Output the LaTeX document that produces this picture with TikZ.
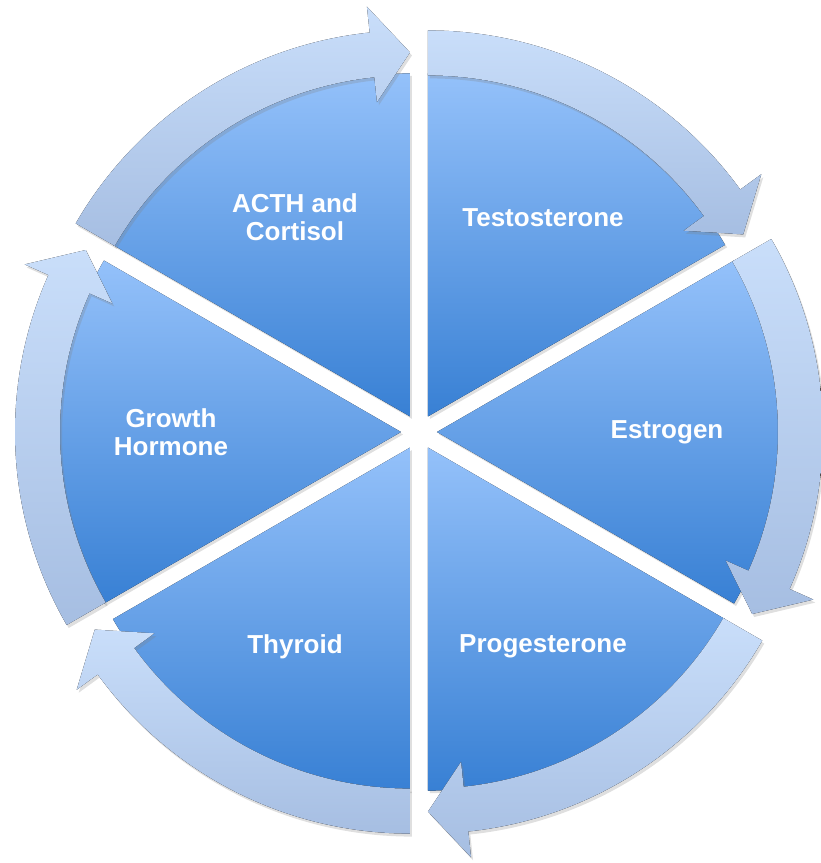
\documentclass[tikz,border=0pt]{standalone}
\usepackage{fontspec}
\setmainfont{Liberation Sans}
\usetikzlibrary{shadows}

\definecolor{wedgetop}{RGB}{148,193,250}
\definecolor{wedgebot}{RGB}{56,128,212}
\definecolor{bandtop}{RGB}{201,222,250}
\definecolor{bandbot}{RGB}{166,190,226}

\begin{document}
\begin{tikzpicture}[x=1pt,y=1pt,
    wedge/.style={top color=wedgetop,bottom color=wedgebot,
      drop shadow={shadow xshift=2pt,shadow yshift=-2.5pt,opacity=.25}},
    band/.style={top color=bandtop,bottom color=bandbot,
      drop shadow={shadow xshift=2pt,shadow yshift=-3pt,opacity=.25}},
    lbl/.style={text=white,font=\bfseries\fontsize{26}{28}\selectfont,align=center}]
  \useasboundingbox (-419,-431) rectangle (402,432);

  % six pieces, pushed out along their middle
  \foreach \a in {60,0,-60,-120,180,120}
    \fill[wedge,shift={(\a:18)}]
      (0,0) -- (\a+30:343) arc[start angle=\a+30,end angle=\a-30,radius=343] -- cycle;

  % curved arrows round the rim, clockwise
  \foreach \a in {60,0,-60,-120,180,120}
    \fill[band,shift={(\a:18)}]
      (\a+30:386) arc[start angle=\a+30,end angle=\a-24,radius=386]
      -- (\a-24:412) -- (\a-30:364) -- (\a-24:316)
      -- (\a-24:341) arc[start angle=\a-24,end angle=\a+30,radius=341] -- cycle;

  \foreach \a/\name/\txt in {60/test/Testosterone,0/estr/Estrogen,
      -60/prog/Progesterone,-120/thyr/Thyroid,
      180/grow/{Growth\\Hormone},120/acth/{ACTH and\\Cortisol}}
    \node[lbl] (\name) at (\a:248) {\txt};
\end{tikzpicture}
\end{document}
